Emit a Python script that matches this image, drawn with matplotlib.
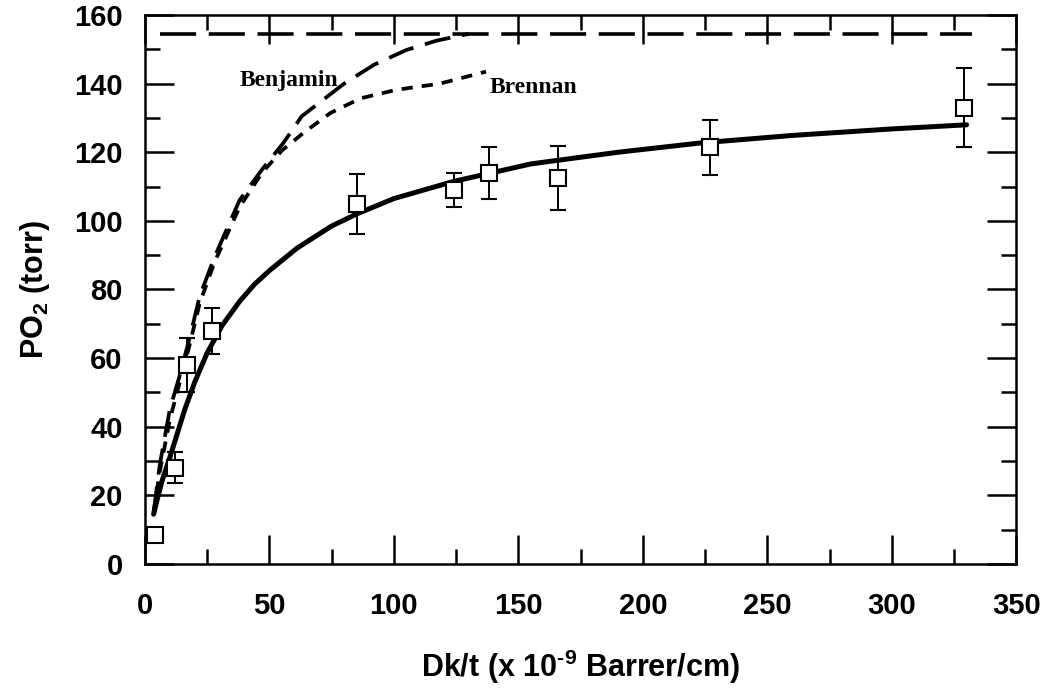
import matplotlib.pyplot as plt
from matplotlib.ticker import MultipleLocator

# Measured data (squares with error bars)
dk_t = [4, 12, 17, 27, 85, 124, 138, 166, 227, 329]
po2 = [8.5, 28, 58, 68, 105, 109, 114, 112.5, 121.5, 133]
po2_err = [0, 4.5, 8, 6.7, 8.7, 5, 7.5, 9.3, 8, 11.5]

# Solid fit curve
fit_x = [3.5, 5, 7, 10, 13, 16, 20, 25, 31, 38, 44, 50, 61, 75, 85, 100, 124, 155, 190, 223, 260, 300, 330]
fit_y = [14.5, 19, 24.5, 31, 38, 45, 53, 61.5, 69.5, 76.5, 81.5, 85.5, 92, 98.5, 102, 106.5, 111.5, 116.6, 120, 122.7, 124.9, 126.8, 128]

# Benjamin model (long dashes)
benj_x = [3.5, 6, 10, 14, 18, 22, 28, 38, 47.5, 55.5, 63, 80, 92, 105, 117, 130]
benj_y = [15, 29, 45, 55, 66, 78, 89.5, 106, 115.4, 122.6, 130.5, 140, 145.5, 149.8, 152.5, 154.5]

# Brennan model (short dashes)
bren_x = [3.5, 6, 10, 14, 18, 22, 28, 38, 47, 55, 63.6, 74.4, 86.5, 101, 118.5, 137]
bren_y = [15, 27, 42, 53, 64, 76, 88, 104, 114, 120.5, 125.6, 131.4, 135.7, 138.2, 140, 143.5]

# Atmospheric PO2 limit
atm_x = [6, 332]
atm_y = [154.5, 154.5]

plt.rcParams['font.family'] = ['Liberation Sans Narrow', 'Liberation Sans', 'DejaVu Sans']
plt.rcParams['mathtext.fontset'] = 'custom'
plt.rcParams['mathtext.rm'] = 'Liberation Sans'
plt.rcParams['mathtext.bf'] = 'Liberation Sans:bold'

fig = plt.figure(figsize=(10.5, 6.98), dpi=100)
ax = fig.add_axes([0.138, 0.192, 0.83, 0.7865])

ax.plot(atm_x, atm_y, color='black', linewidth=2.6, dashes=(10, 3.5))
ax.plot(benj_x, benj_y, color='black', linewidth=2.7, dashes=(7, 3.2))
ax.plot(bren_x, bren_y, color='black', linewidth=2.7, dashes=(3, 2.4))
ax.plot(fit_x, fit_y, color='black', linewidth=3.6, solid_capstyle='round')

ax.errorbar(dk_t, po2, yerr=po2_err, fmt='s', color='black', markerfacecolor='white',
            markeredgecolor='black', markersize=11, markeredgewidth=1.5,
            elinewidth=1.4, capsize=5.5, capthick=1.4, zorder=5)

ax.text(38, 141, 'Benjamin', family='Liberation Serif', fontweight='bold', fontsize=17,
        va='center', ha='left')
ax.text(138.6, 138.8, 'Brennan', family='Liberation Serif', fontweight='bold', fontsize=17,
        va='center', ha='left')

ax.set_xlim(0, 350)
ax.set_ylim(0, 160)
ax.xaxis.set_major_locator(MultipleLocator(50))
ax.xaxis.set_minor_locator(MultipleLocator(25))
ax.yaxis.set_major_locator(MultipleLocator(20))
ax.yaxis.set_minor_locator(MultipleLocator(10))
ax.tick_params(which='both', direction='in', top=True, right=True, width=1.8)
ax.tick_params(which='major', length=21)
ax.tick_params(which='minor', length=11)
ax.tick_params(axis='x', which='major', pad=20, labelsize=21)
ax.tick_params(axis='y', which='major', pad=16, labelsize=21)
for lab in ax.get_xticklabels() + ax.get_yticklabels():
    lab.set_fontweight('bold')
for s in ax.spines.values():
    s.set_linewidth(1.8)

ax.set_xlabel('Dk/t (x 10$^{\\mathbf{\u20109}}$ Barrer/cm)', fontsize=22, fontweight='bold', labelpad=20)
ax.set_ylabel('PO$_{\\mathbf{2}}$ (torr)', fontsize=22, fontweight='bold', labelpad=16)

fig.savefig('out.png', dpi=100)
